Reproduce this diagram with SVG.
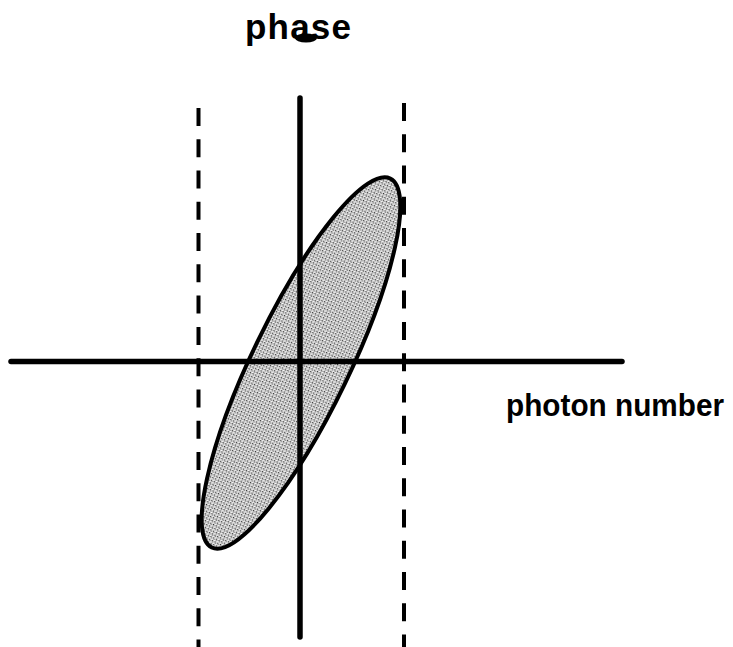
<svg xmlns="http://www.w3.org/2000/svg" width="733" height="647" viewBox="0 0 733 647">
  <style>
    .label { font-family: "Liberation Sans", Arial, Helvetica, sans-serif; font-weight: bold; fill: #000; }
    .axis { stroke: #000; stroke-width: 5.5; stroke-linecap: round; fill: none; }
    .dash { stroke: #000; stroke-width: 4; stroke-dasharray: 18 13.27; fill: none; }
    .blob { fill: url(#stipple); stroke: #000; stroke-width: 4; }
  </style>
  <defs>
    <pattern id="stipple" x="0" y="0" width="3" height="3" patternUnits="userSpaceOnUse">
      <rect width="3" height="3" fill="#d0d0d0"/>
      <rect x="0" y="0" width="1" height="1" fill="#333"/>
      <rect x="2" y="1" width="1" height="1" fill="#808080"/>
      <rect x="1" y="2" width="1" height="1" fill="#ffffff"/>
    </pattern>
  </defs>
  <rect width="733" height="647" fill="#fff"/>

  <g id="region">
    <ellipse class="blob" cx="301" cy="363" rx="205" ry="48.5" transform="rotate(-64.2 301 363)"/>
  </g>

  <g id="connectors">
    <line id="dashed-left" class="dash" x1="198.5" y1="108" x2="198.5" y2="647"/>
    <line id="dashed-right" class="dash" x1="404" y1="103" x2="404" y2="647"/>
    <line id="phase-axis" class="axis" x1="300" y1="98" x2="300" y2="637"/>
    <line id="photon-axis" class="axis" x1="11" y1="361.5" x2="622" y2="361.5"/>
  </g>

  <g id="phase-label">
    <text class="label" x="245" y="39" font-size="35" textLength="106" lengthAdjust="spacing">phase</text>
    <ellipse cx="306" cy="38" rx="11" ry="4.5" fill="#000"/>
  </g>

  <g id="photon-number-label">
    <text class="label" x="506" y="416" font-size="31" textLength="218" lengthAdjust="spacingAndGlyphs">photon number</text>
  </g>
</svg>
